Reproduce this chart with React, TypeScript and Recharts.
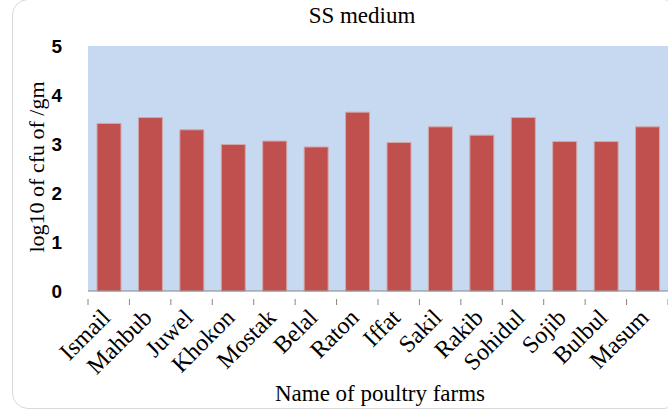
import React from 'react';
import { BarChart, Bar, XAxis, YAxis } from 'recharts';

const farms = [
  'Ismail', 'Mahbub', 'Juwel', 'Khokon', 'Mostak', 'Belal', 'Raton',
  'Iffat', 'Sakil', 'Rakib', 'Sohidul', 'Sojib', 'Bulbul', 'Masum',
];
const logCfu = [3.42, 3.54, 3.29, 2.99, 3.06, 2.94, 3.65, 3.03, 3.35, 3.18, 3.54, 3.05, 3.05, 3.35];
const yTicks = [0, 1, 2, 3, 4, 5];

const data = farms.map((name, i) => ({ name, value: logCfu[i] }));

const W = 668;
const H = 411;
const LEFT = 88;
const TOP = 46;
const XAXIS_H = 120;
const PLOT_W = W - LEFT;

const serif = '"Liberation Serif", "Times New Roman", serif';

// Excel style: tick marks sit on category edges, labels slanted at -45
const FarmTick = (props: any) => {
  const { x, y, payload, index } = props;
  const band = PLOT_W / farms.length;
  const left = x - band / 2;
  const ax = x + 3;
  const ay = y + 20;
  return (
    <g>
      <line x1={left} y1={y} x2={left} y2={y + 6} stroke="#868686" />
      {index === farms.length - 1 && (
        <line x1={left + band} y1={y} x2={left + band} y2={y + 6} stroke="#868686" />
      )}
      <text
        x={ax}
        y={ay}
        transform={`rotate(-45, ${ax}, ${ay})`}
        textAnchor="end"
        fontFamily={serif}
        fontSize={24}
        fill="#000"
      >
        {payload.value}
      </text>
    </g>
  );
};

export default function App() {
  return (
    <div style={{ position: 'absolute', left: 0, top: 0, width: W, height: H, background: '#fff', overflow: 'hidden' }}>
      <div
        style={{
          position: 'absolute', left: 12, top: -1, width: W, height: 410,
          border: '1px solid #d9d9d9', borderRadius: 16, boxSizing: 'border-box',
        }}
      />
      <div style={{ position: 'absolute', left: 0, top: 0 }}>
        <BarChart width={W} height={H} data={data} margin={{ top: TOP, right: 0, bottom: 0, left: 0 }}>
          <rect x={LEFT} y={TOP} width={PLOT_W} height={H - TOP - XAXIS_H} fill="#C6D9F1" />
          <XAxis
            dataKey="name"
            height={XAXIS_H}
            interval={0}
            tickLine={false}
            axisLine={{ stroke: '#868686' }}
            tick={<FarmTick />}
          />
          <YAxis
            width={LEFT}
            domain={[0, 5]}
            ticks={yTicks}
            axisLine={false}
            tickLine={false}
            tickMargin={20}
            tick={{ fill: '#000', fontSize: 19, fontWeight: 'bold', fontFamily: '"Liberation Sans", Arial, sans-serif' }}
          />
          <Bar dataKey="value" fill="#C0504D" stroke="#d4a7a8" strokeWidth={1} barSize={24} isAnimationActive={false} />
        </BarChart>
      </div>
      <div style={{ position: 'absolute', left: 362, top: 16, transform: 'translate(-50%, -50%)', whiteSpace: 'nowrap', fontFamily: serif, fontSize: 23 }}>
        SS medium
      </div>
      <div
        style={{
          position: 'absolute', left: 37, top: 167, transform: 'translate(-50%, -50%) rotate(-90deg)',
          whiteSpace: 'nowrap', fontFamily: serif, fontSize: 22,
        }}
      >
        log10 of cfu of /gm
      </div>
      <div style={{ position: 'absolute', left: 380, top: 394, transform: 'translate(-50%, -50%)', whiteSpace: 'nowrap', fontFamily: serif, fontSize: 23 }}>
        Name of poultry farms
      </div>
    </div>
  );
}
